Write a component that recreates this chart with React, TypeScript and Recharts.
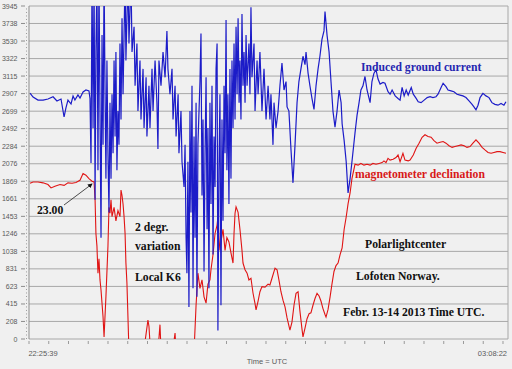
import { LineChart, Line, XAxis, YAxis, CartesianGrid, ReferenceLine } from 'recharts'

// minutes after 22:25:39 UTC
const SPAN = 282.7

const yTicks = [0, 208, 415, 623, 831, 1038, 1246, 1453, 1661, 1869, 2076, 2284, 2492, 2699, 2907, 3115, 3322, 3530, 3738, 3945]
const timeLabels = ['22:25:39', '03:08:22']

const igcMinutes = [
  0.6, 2.4, 5.3, 8.3, 11.2, 14.2, 16.5, 18.9, 20.7, 21.8, 23.0, 24.8, 26.0, 27.1, 28.9, 30.1, 31.9, 33.6, 35.4, 36.0,
  36.6, 37.2, 37.8, 38.4, 39.0, 39.5, 40.1, 40.7, 41.3, 41.9, 42.5, 43.1, 43.7, 44.3, 44.9, 45.4, 46.0, 46.6, 47.2, 47.8,
  48.4, 49.0, 49.6, 50.2, 50.8, 51.3, 51.9, 52.5, 53.1, 53.7, 54.3, 54.9, 55.5, 56.7, 57.2, 58.4, 59.0, 60.2, 60.8, 62.0,
  62.6, 63.7, 64.3, 65.5, 66.1, 67.3, 67.9, 69.1, 69.6, 70.8, 71.4, 72.6, 73.2, 74.4, 75.5, 76.1, 76.7, 77.9, 79.1, 80.3,
  81.4, 82.0, 83.2, 84.4, 85.0, 86.2, 86.8, 88.0, 88.5, 89.7, 90.3, 91.5, 92.1, 92.7, 93.2, 93.8, 94.4, 95.0, 95.6, 96.2,
  96.8, 97.4, 98.0, 98.6, 99.1, 99.7, 100.9, 101.5, 102.1, 102.7, 103.3, 103.9, 104.5, 105.1, 105.6, 106.2, 106.8, 107.4, 108.0, 108.6,
  109.2, 109.8, 110.4, 111.0, 111.5, 112.1, 112.7, 113.3, 113.9, 114.5, 115.1, 115.7, 116.3, 116.8, 117.4, 118.0, 118.6, 119.2, 119.8, 120.4,
  121.0, 121.6, 122.2, 122.8, 123.4, 124.0, 124.5, 125.1, 125.7, 126.3, 126.9, 127.5, 128.1, 128.7, 129.8, 130.4, 131.0, 131.6, 132.8, 133.4,
  134.6, 135.2, 136.3, 137.5, 138.7, 139.9, 141.1, 142.2, 142.8, 144.0, 144.6, 145.8, 147.0, 148.1, 149.3, 150.5, 151.7, 152.3, 153.4, 154.6,
  155.8, 157.0, 158.2, 159.3, 160.5, 161.7, 162.9, 163.5, 164.7, 165.8, 167.0, 168.2, 169.4, 170.6, 171.7, 172.9, 174.1, 174.7, 175.9, 177.1,
  178.3, 179.4, 180.6, 181.8, 183.0, 184.2, 184.8, 186.0, 187.2, 188.3, 189.5, 190.6, 192.4, 193.6, 194.8, 195.9, 197.1, 198.3, 199.5, 200.7,
  201.3, 202.4, 203.6, 204.8, 206.0, 207.2, 208.9, 210.1, 211.9, 213.1, 214.3, 216.1, 217.8, 219.0, 220.2, 221.4, 222.6, 223.8, 225.6, 226.8,
  228.5, 229.7, 231.4, 233.2, 235.0, 236.7, 238.4, 240.2, 241.4, 243.2, 244.4, 246.1, 247.3, 249.1, 250.8, 252.6, 254.4, 256.1, 257.9, 259.7,
  261.5, 262.6, 263.8, 265.0, 266.2, 267.9, 269.7, 271.5, 273.2, 275.0, 276.8, 278.6, 280.3, 281.5,
]
const igcCurrent = [
  2914, 2867, 2831, 2831, 2843, 2870, 2820, 2843, 2630, 2737, 2831, 2784, 2879, 2831, 2891, 2855, 2926, 2950, 2938, 2850,
  2085, 4300, 2500, 4300, 1650, 3400, 4300, 2000, 4300, 2700, 1200, 3600, 2300, 4300, 2900, 1900, 3300, 2200, 1500, 2800,
  1900, 2900, 2200, 3300, 2400, 3400, 2000, 2700, 2300, 3500, 2600, 3800, 2900, 4300, 3300, 4300, 3500, 4300, 3400, 3700,
  3000, 3500, 2700, 3300, 2600, 3200, 2500, 3100, 2400, 3000, 2500, 3200, 2700, 3300, 2800, 2250, 3300, 3000, 3400, 3100,
  3650, 3200, 2900, 3200, 2600, 3000, 2400, 2900, 2200, 2700, 2100, 1800, 2300, 1200, 780, 2100, 380, 2700, 1500, 3000,
  600, 2400, 1200, 2800, 500, 2300, 3050, 3620, 1700, 2600, 800, 2200, 3100, 1300, 2500, 600, 2800, 1600, 3000, 1000,
  2400, 1800, 3200, 3500, 100, 2000, 2900, 400, 2600, 1400, 3000, 2200, 3780, 2000, 2900, 1600, 3200, 1900, 3300, 2500,
  3500, 2600, 3700, 2900, 3800, 2800, 3300, 2600, 3850, 3000, 3400, 2800, 3600, 3000, 3500, 2900, 3930, 3100, 3500, 2700,
  3300, 2900, 3400, 2700, 3200, 2600, 3000, 2600, 2900, 2300, 2800, 2500, 2700, 3000, 3270, 2950, 3050, 2750, 2700, 2250,
  1850, 2300, 2800, 3050, 3200, 3350, 3250, 3400, 3150, 3000, 2850, 2720, 3000, 3200, 3350, 3550, 3650, 3880, 3600, 3400,
  3030, 2700, 2510, 2700, 2950, 2800, 2550, 2350, 2100, 1730, 1900, 2100, 2440, 2650, 2800, 2950, 3000, 3110, 2950, 2850,
  2800, 3050, 3150, 3190, 3080, 3020, 3040, 3030, 2930, 2900, 2950, 2880, 2850, 2830, 2980, 2880, 2950, 2890, 2980, 2900,
  2850, 2810, 2800, 2830, 2860, 2870, 2860, 2870, 2900, 2980, 3030, 2990, 2950, 2940, 2930, 2900, 2890, 2880, 2860, 2820,
  2780, 2750, 2715, 2770, 2860, 2910, 2880, 2860, 2800, 2780, 2770, 2790, 2770, 2810,
]

const declMinutes = [
  0.6, 2.4, 5.3, 8.3, 11.2, 13.0, 15.3, 18.3, 20.7, 23.0, 25.4, 27.7, 30.1, 31.9, 33.6, 35.4, 37.2, 38.4, 39.0, 39.5,
  40.1, 40.7, 41.3, 41.9, 42.5, 43.1, 43.7, 44.3, 45.4, 46.6, 47.2, 47.8, 48.4, 49.0, 50.2, 51.3, 52.5, 53.7, 54.3, 54.9,
  55.5, 56.1, 56.7, 57.2, 57.8, 58.4, 59.0, 63.1, 67.3, 69.1, 70.2, 70.8, 71.4, 72.6, 76.1, 77.3, 77.9, 84.4, 86.2, 86.8,
  97.4, 98.6, 99.7, 100.9, 102.1, 103.3, 104.5, 105.6, 106.8, 107.4, 108.6, 109.8, 111.0, 111.5, 112.1, 112.7, 113.3, 114.5, 115.7, 116.8,
  118.0, 119.2, 120.4, 121.0, 121.6, 122.2, 123.4, 124.5, 125.7, 126.3, 127.5, 128.7, 129.8, 131.0, 132.2, 133.4, 134.0, 135.2, 136.3, 137.5,
  139.3, 141.1, 142.2, 143.4, 145.2, 146.4, 147.5, 148.7, 149.9, 151.1, 152.3, 154.0, 155.2, 156.4, 157.6, 158.8, 159.9, 161.1, 161.7, 162.9,
  164.1, 165.3, 166.4, 167.6, 168.8, 170.0, 171.2, 172.3, 173.5, 174.7, 175.3, 176.5, 177.7, 178.8, 180.0, 181.2, 182.4, 183.6, 184.8, 186.0,
  187.2, 188.3, 189.5, 190.6, 192.4, 194.2, 195.9, 197.7, 199.5, 201.3, 203.0, 204.8, 206.6, 208.4, 209.5, 210.7, 211.9, 213.1, 214.9, 216.6,
  217.8, 219.0, 220.7, 221.9, 223.8, 224.9, 226.8, 228.5, 230.2, 232.0, 233.7, 235.5, 237.3, 239.0, 240.8, 242.6, 244.4, 246.1, 247.9, 249.7,
  251.4, 253.2, 255.0, 256.8, 258.5, 260.3, 262.0, 263.8, 265.6, 267.4, 269.1, 270.9, 272.7, 274.4, 276.2, 278.0, 279.8, 281.5,
]
// below-zero stretches run off the bottom of the plot
const declination = [
  1845, 1860, 1860, 1850, 1830, 1790, 1810, 1830, 1820, 1850, 1845, 1855, 1880, 1960, 1940, 1900, 1870, 1860, 1650, 1250,
  1100, 780, 950, 700, 580, 420, 260, 25, 500, 1100, 1560, 1490, 1650, 1450, 1560, 1400, 1520, 1450, 1765, 1700,
  1600, 1450, 1250, 900, 660, 260, -150, -250, -200, 60, 225, 150, -40, -200, -150, 170, -120, -200, 70, -150,
  -150, 400, 780, 600, 700, 500, 425, 650, 700, 820, 1000, 1250, 1350, 1445, 1200, 1050, 1150, 1300, 1050, 1200,
  1150, 1020, 900, 1250, 1490, 1565, 1500, 1300, 1050, 900, 820, 780, 700, 720, 545, 420, 345, 450, 560, 620,
  615, 650, 640, 720, 840, 820, 700, 560, 460, 380, 250, 105, 200, 400, 540, 560, 330, 120, 25, 130,
  240, 300, 310, 400, 480, 540, 510, 450, 360, 290, 260, 350, 500, 650, 800, 870, 900, 1000, 1080, 1300,
  1445, 1600, 1730, 1900, 2070, 2060, 2080, 2060, 2070, 2060, 2080, 2070, 2080, 2090, 2110, 2090, 2140, 2120, 2130, 2150,
  2180, 2100, 2200, 2120, 2110, 2120, 2180, 2260, 2320, 2390, 2420, 2400, 2390, 2350, 2320, 2330, 2340, 2320, 2290, 2270,
  2280, 2290, 2300, 2290, 2270, 2280, 2320, 2360, 2320, 2270, 2240, 2210, 2200, 2210, 2220, 2220, 2210, 2200,
]

const igc = igcMinutes.map((t, i) => ({ t, v: igcCurrent[i] }))
const decl = declMinutes.map((t, i) => ({ t, v: declination[i] }))

// small tick marks along the time axis, last one carries the end label
const xTicks: number[] = []
for (let k = 0; k <= 24; k++) xTicks.push(+(k * 11.656).toFixed(2))
xTicks.push(SPAN)

const AXIS_FONT = '"Liberation Sans", Arial, sans-serif'
const NOTE_FONT = '"Liberation Serif", "Times New Roman", serif'

function YTick(props: any) {
  const { y, payload, index } = props
  return (
    <g>
      <line x1={21} x2={25} y1={y} y2={y} stroke="#8c8c8c" />
      {index < yTicks.length - 1 && (
        <line x1={26.5} x2={26.5} y1={y} y2={y - 17.5} stroke="#9a9a9a" strokeDasharray="1 2.5" />
      )}
      <text x={17.5} y={y + 2.5} textAnchor="end" fontSize={7} fill="#5a5a5a" fontFamily={AXIS_FONT}>
        {payload.value}
      </text>
    </g>
  )
}

function XTick(props: any) {
  const { x, y, index } = props
  const last = index === xTicks.length - 1
  return (
    <g>
      {!last && <line x1={x} x2={x} y1={y + 2} y2={y + 5} stroke="#9a9a9a" />}
      {index === 0 && (
        <text x={x + 14} y={y + 17} textAnchor="middle" fontSize={7.5} fill="#5a5a5a" fontFamily={AXIS_FONT}>
          {timeLabels[0]}
        </text>
      )}
      {last && (
        <text x={x - 1} y={y + 17} textAnchor="end" fontSize={7.5} fill="#5a5a5a" fontFamily={AXIS_FONT}>
          {timeLabels[1]}
        </text>
      )}
    </g>
  )
}

const note = { fontFamily: NOTE_FONT, fontWeight: 700, fontSize: 11.7 } as const

export default function App() {
  return (
    <div style={{ position: 'fixed', left: 0, top: 0, width: 512, height: 369, background: '#f0f0f0' }}>
      <LineChart width={512} height={369} margin={{ top: 6, right: 4, bottom: 0, left: 0 }}>
        <CartesianGrid vertical={false} stroke="#a8a8a8" />
        <XAxis
          type="number"
          dataKey="t"
          domain={[0, SPAN]}
          ticks={xTicks}
          interval={0}
          allowDataOverflow
          tick={<XTick />}
          tickSize={0}
          tickMargin={0}
          tickLine={false}
          axisLine={false}
          height={30}
        />
        <YAxis
          type="number"
          domain={[0, 3945]}
          ticks={yTicks}
          interval={0}
          allowDataOverflow
          width={29}
          tick={<YTick />}
          tickLine={false}
          axisLine={{ stroke: '#8c8c8c' }}
        />
        <ReferenceLine x={SPAN} stroke="#a8a8a8" />
        <Line data={decl} dataKey="v" stroke="#e01414" strokeWidth={1.1} dot={false} isAnimationActive={false} />
        <Line data={igc} dataKey="v" stroke="#1c1cc8" strokeWidth={1.2} dot={false} isAnimationActive={false} />
      </LineChart>
      <svg width={512} height={369} style={{ position: 'absolute', left: 0, top: 0, pointerEvents: 'none' }}>
        <defs>
          <marker id="head" markerWidth="6" markerHeight="6" refX="5" refY="3" orient="auto">
            <path d="M0,0 L6,3 L0,6 Z" fill="#111" />
          </marker>
        </defs>
        <text x={267} y={364} textAnchor="middle" fontSize={7.5} fill="#5a5a5a" fontFamily={AXIS_FONT}>
          Time = UTC
        </text>
        <text x={361} y={71} fill="#2626b0" {...note}>Induced ground current</text>
        <text x={355} y={178} fill="#d81818" {...note}>magnetometer declination</text>
        <text x={37} y={214} fill="#111" {...note}>23.00</text>
        <line x1={64} y1={205} x2={92} y2={184} stroke="#222" strokeWidth={0.8} markerEnd="url(#head)" />
        <text x={135} y={231} fill="#111" {...note}>2 degr.</text>
        <text x={135} y={250} fill="#111" {...note}>variation</text>
        <text x={135} y={281} fill="#111" {...note}>Local K6</text>
        <text x={365} y={248} fill="#111" {...note}>Polarlightcenter</text>
        <text x={356} y={280} fill="#111" {...note}>Lofoten Norway.</text>
        <text x={343} y={316} fill="#111" {...note}>Febr. 13-14 2013 Time UTC.</text>
      </svg>
    </div>
  )
}
